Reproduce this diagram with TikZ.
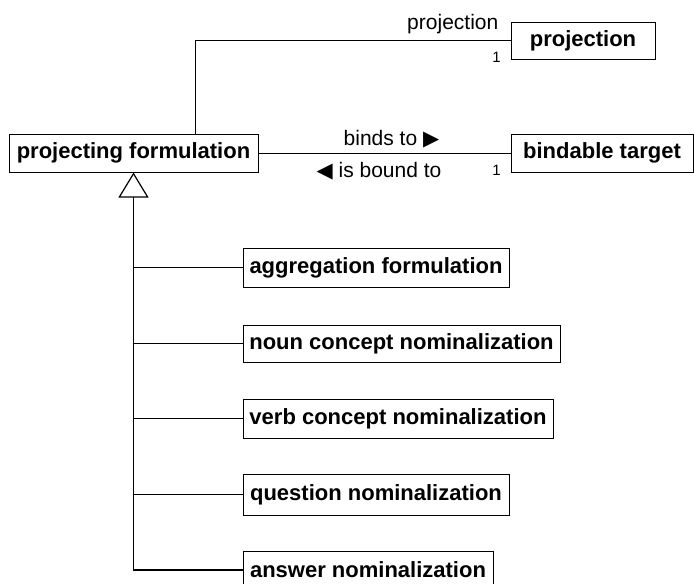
\documentclass[tikz,border=0pt]{standalone}
\usepackage{fontspec}
\setmainfont{Liberation Sans}
\newfontfamily\symfont{DejaVu Sans}
\usetikzlibrary{arrows.meta,calc}

\tikzset{
  cls/.style={draw, line width=1pt, font=\fontsize{22}{26}\selectfont\bfseries, minimum height=38pt, inner sep=0pt},
  assoc/.style={line width=1pt},
  gen/.style={line width=1.4pt},
  lbl/.style={font=\fontsize{21}{25}\selectfont, inner sep=0pt},
  mult/.style={font=\fontsize{15}{18}\selectfont, inner sep=0pt}
}

\begin{document}
\begin{tikzpicture}[x=1pt,y=-1pt]
\useasboundingbox (0,0) rectangle (694,584);
\node[cls, minimum width=249pt] (pf) at (133.5,153) {projecting formulation};
\node[cls, minimum width=144pt, minimum height=37pt] (proj) at (583,40.5) {projection};
\node[cls, minimum width=182pt] (bt) at (602,153) {bindable target};
\node[cls, minimum width=266pt, minimum height=39pt] (agg) at (376,267.5) {aggregation formulation};
\node[cls, minimum width=317pt, minimum height=37pt] (noun) at (401.5,343.5) {noun concept nominalization};
\node[cls, minimum width=310pt, minimum height=39pt] (verb) at (398,418.5) {verb concept nominalization};
\node[cls, minimum width=266pt, minimum height=41pt] (quest) at (376,494.5) {question nominalization};
\node[cls, minimum width=250pt] (ans) at (368,570) {answer nominalization};
% projection association
\coordinate (bend) at (195,40.5);
\draw[assoc] (pf.north -| bend) -- (bend) -- (proj.west);
\node[lbl, anchor=base east] (projrole) at ([xshift=-12pt,yshift=11.5pt]proj.west) {projection};
\node[mult] (projmult) at ([xshift=-14pt,yshift=-16.5pt]proj.west) {1};
% binding association
\draw[assoc] (pf.east) -- (bt.west);
\node[lbl, anchor=base] (binds) at ([xshift=7pt,yshift=8pt]$(pf.east)!0.5!(bt.west)$) {binds to {\symfont\fontsize{21}{25}\selectfont▶}};
\node[lbl, anchor=base] (bound) at ([xshift=-5.5pt,yshift=-24.5pt]$(pf.east)!0.5!(bt.west)$) {{\symfont\fontsize{21}{25}\selectfont◀} is bound to};
\node[mult] (btmult) at ([xshift=-14pt,yshift=-17pt]bt.west) {1};
% generalization
\coordinate (trunk) at (pf.south |- ans.west);
\draw[gen, -{Triangle[open,length=25pt,width=30pt,line width=1.2pt]}] (ans.west) -- (trunk) -- (pf.south);
\draw[assoc] (agg.west) -- (agg.west -| trunk);
\draw[assoc] (noun.west) -- (noun.west -| trunk);
\draw[assoc] (verb.west) -- (verb.west -| trunk);
\draw[assoc] (quest.west) -- (quest.west -| trunk);
\end{tikzpicture}
\end{document}
